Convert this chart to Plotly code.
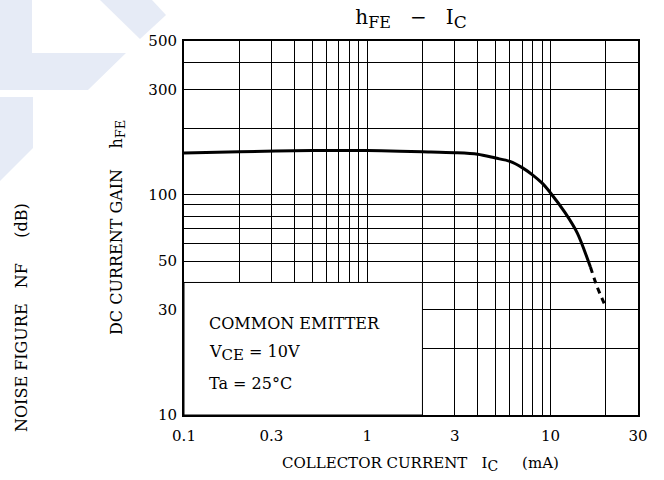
import plotly.graph_objects as go

# ---- data ----
ic_solid = [0.1, 0.2, 0.5, 1, 1.5, 2, 3, 4, 5, 6, 7, 8, 9, 10, 12, 14, 16.5]
hfe_solid = [155, 157, 159, 159, 158, 157, 155.5, 153, 147, 142, 133, 123, 113, 102, 83, 67, 47]
ic_dash = [16.5, 18, 20]
hfe_dash = [47, 38, 31]

x_grid = [0.1, 0.2, 0.3, 0.4, 0.5, 0.6, 0.7, 0.8, 0.9, 1, 2, 3, 4, 5, 6, 7, 8, 9, 10, 20, 30]
x_labels = {0.1: "0.1", 0.3: "0.3", 1: "1", 3: "3", 10: "10", 30: "30"}
y_grid = [10, 20, 30, 40, 50, 60, 70, 80, 90, 100, 200, 300, 400, 500]
y_labels = {10: "10", 30: "30", 50: "50", 100: "100", 300: "300", 500: "500"}

FONT = "DejaVu Serif"
W, H = 664, 480
L, R, T, B = 184, 26, 41, 65
PW, PH = W - L - R, H - T - B


def px2paper(px, py):
    return (px - L) / PW, (H - B - py) / PH


def poly_path(points):
    pts = [px2paper(x, y) for x, y in points]
    return "M " + " L ".join(f"{x:.4f},{y:.4f}" for x, y in pts) + " Z"


def sub(t, size):
    return f"<sub><span style='font-size:{size}px'>{t}</span></sub>"


fig = go.Figure()
fig.add_trace(go.Scatter(x=ic_solid, y=hfe_solid, mode="lines",
                         line=dict(color="black", width=3, shape="spline", smoothing=0.8),
                         showlegend=False))
fig.add_trace(go.Scatter(x=ic_dash, y=hfe_dash, mode="lines",
                         line=dict(color="black", width=3, dash="6px,5px", shape="spline", smoothing=0.6),
                         showlegend=False))

wm = "#e6ebf6"
shapes = [
    dict(type="path", xref="paper", yref="paper", layer="below", line=dict(width=0), fillcolor=wm,
         path=poly_path([(0, 0), (32, 0), (32, 53), (126, 53), (88, 90), (0, 90)])),
    dict(type="path", xref="paper", yref="paper", layer="below", line=dict(width=0), fillcolor=wm,
         path=poly_path([(100, 0), (152, 0), (166, 15), (140, 39)])),
    dict(type="path", xref="paper", yref="paper", layer="below", line=dict(width=0), fillcolor=wm,
         path=poly_path([(0, 97), (33, 97), (33, 148), (0, 181)])),
    # condition box
    dict(type="rect", xref="x", yref="y", x0=0.1, x1=2, y0=10, y1=40, layer="between",
         fillcolor="white", line=dict(color="black", width=1)),
]

ann = []
tf = dict(family=FONT, size=15, color="black")
yf = dict(family=FONT, size=16, color="black")
bf = dict(family=FONT, size=16, color="black")
for txt, yy in zip(["COMMON EMITTER", "V" + sub("CE", 15) + " = 10V", "Ta = 25°C"], [323, 353, 383]):
    px, py = px2paper(207, yy)
    ann.append(dict(text=txt, x=px, y=py, xref="paper", yref="paper", xanchor="left",
                    yanchor="middle", showarrow=False, font=bf))
# axis titles
px, py = px2paper(117, 228)
ann.append(dict(text="DC CURRENT GAIN    h" + sub("FE", 13), x=px, y=py, xref="paper", yref="paper",
                textangle=-90, showarrow=False, font=yf, xanchor="center", yanchor="middle"))
px, py = px2paper(21, 318)
ann.append(dict(text="NOISE FIGURE   NF     (dB)", x=px, y=py, xref="paper", yref="paper",
                textangle=-90, showarrow=False, font=yf, xanchor="center", yanchor="middle"))
px, py = px2paper(420, 464)
ann.append(dict(text="COLLECTOR CURRENT   I" + sub("C", 14) + "     (mA)", x=px, y=py, xref="paper",
                yref="paper", showarrow=False, font=tf, xanchor="center", yanchor="middle"))

fig.update_layout(
    width=W, height=H,
    margin=dict(l=L, r=R, t=T, b=B, pad=0),
    paper_bgcolor="white", plot_bgcolor="white",
    font=dict(family=FONT, size=15, color="black"),
    title=dict(text="h" + sub("FE", 16) + "   −   I" + sub("C", 17), x=411 / W, xanchor="center",
               y=1 - 17 / H, yanchor="middle", font=dict(family=FONT, size=20, color="black")),
    shapes=shapes,
    annotations=ann,
)
fig.update_xaxes(type="log", range=[-1, 1.4771], tickvals=x_grid,
                 ticktext=[x_labels.get(v, "") for v in x_grid],
                 showgrid=True, gridcolor="black", gridwidth=1,
                 showline=True, linecolor="black", linewidth=2, mirror=True,
                 ticks="", zeroline=False, ticklabelstandoff=6,
                 tickfont=dict(family=FONT, size=15, color="black"))
fig.update_yaxes(type="log", range=[1, 2.69897], tickvals=y_grid,
                 ticktext=[y_labels.get(v, "") for v in y_grid],
                 showgrid=True, gridcolor="black", gridwidth=1,
                 showline=True, linecolor="black", linewidth=2, mirror=True,
                 ticks="", zeroline=False, ticklabelstandoff=2,
                 tickfont=dict(family=FONT, size=15, color="black"))

fig.write_html("out.html", config={"displayModeBar": False},
               post_script="document.body.style.margin='0';document.body.style.padding='0';")
